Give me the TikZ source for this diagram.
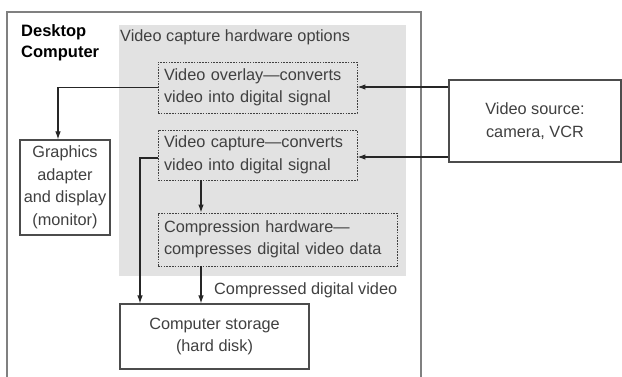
\documentclass[tikz,border=0pt]{standalone}
\usepackage{fontspec}
\setmainfont{Liberation Sans}
\usetikzlibrary{arrows.meta}
\definecolor{txt}{HTML}{404040}
\definecolor{panelgray}{HTML}{E2E2E2}
\begin{document}
\begin{tikzpicture}[x=1pt,y=-1pt,
  every node/.style={font=\fontsize{16.3}{22.5}\selectfont, text=txt},
  solidbox/.style={draw=black!70, line width=1.1pt, align=center, inner sep=0pt},
  dashbox/.style={draw=black!75, line width=0.8pt, dash pattern=on 1.6pt off 1.2pt, align=left, inner xsep=6pt, inner ysep=0pt},
  arr/.style={draw=black!85, line width=1.1pt, -{Latex[length=8pt,width=5.5pt]}}]
\useasboundingbox (0,0) rectangle (622,377);
\fill[white] (0,0) rectangle (622,377);
% outer desktop computer frame
\draw[black!50, line width=1.4pt] (7,380) -- (7,12) -- (421,12) -- (421,380);
% gray region
\fill[panelgray] (119,25) rectangle (406,276);
\node[font=\fontsize{16.5}{21}\selectfont\bfseries, text=black, align=left, anchor=north west, inner sep=0pt] (dc) at (21,24) {Desktop\\Computer};
\node[anchor=west, inner sep=0pt] (opt) at (120,37) {Video capture hardware options};
% boxes
\node[dashbox, minimum width=199, minimum height=51, text width=187] (ov) at (257.5,87.5) {Video overlay---converts\\video into digital signal};
\node[dashbox, minimum width=199, minimum height=50, text width=187] (cap) at (257.5,155) {Video capture---converts\\video into digital signal};
\node[dashbox, minimum width=239, minimum height=53, text width=227] (cm) at (277.5,239.5) {Compression hardware---\\compresses digital video data};
\node[solidbox, minimum width=90, minimum height=95] (gr) at (65,187.5) {Graphics\\adapter\\and display\\(monitor)};
\node[solidbox, minimum width=172, minimum height=82] (vs) at (535,121) {Video source:\\camera, VCR};
\node[solidbox, minimum width=189, minimum height=65] (st) at (214.5,336.5) {Computer storage\\(hard disk)};
\node[anchor=west, inner sep=0pt] (lbl) at (214,290) {Compressed digital video};
% connectors
\draw[arr] ([yshift=0.5]vs.west |- ov.east) -- ([yshift=0.5]ov.east);
\draw[arr] ([yshift=-2]vs.west |- cap.east) -- ([yshift=-2]cap.east);
\draw[arr] (ov.west) -| ([xshift=-7]gr.north);
\draw[arr] ([yshift=-3]cap.west) -| ([xshift=-74.5]st.north);
\draw[arr] ([xshift=-56.5]cap.south) -- ([xshift=-76.5]cm.north);
\draw[arr] ([xshift=-76.5]cm.south) -- ([xshift=-13.5]st.north);
\end{tikzpicture}
\end{document}
